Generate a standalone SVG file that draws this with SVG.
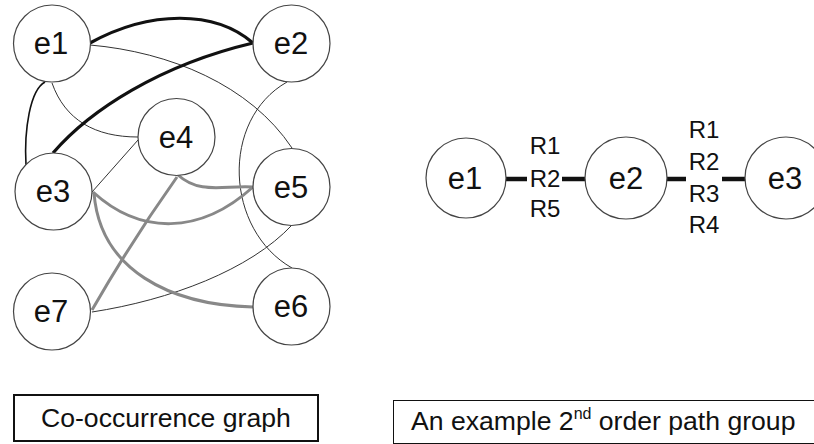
<svg xmlns="http://www.w3.org/2000/svg" width="814" height="444" viewBox="0 0 814 444">
<style>
.n{fill:#fff;stroke:#444;stroke-width:1.2}
.t{font-family:"Liberation Sans",Arial,sans-serif;font-size:31px;fill:#111;text-anchor:middle}
.r{font-family:"Liberation Sans",Arial,sans-serif;font-size:24px;fill:#111;text-anchor:middle}
.thin{fill:none;stroke:#333;stroke-width:1}
.blk{fill:none;stroke:#111;stroke-width:3.2}
.gry{fill:none;stroke:#888;stroke-width:3}
.bar{stroke:#111;stroke-width:4.5}
.cap{font-family:"Liberation Sans",Arial,sans-serif;font-size:26.6px;fill:#111}
</style>
<rect width="814" height="444" fill="#fff"/>
<g id="connectors">
<path class="thin" d="M90,45 C170,52 250,85 292,148"/>
<path fill="none" stroke="#111" stroke-width="1.6" d="M45,82 C30,90 24,130 26,165"/>
<path class="thin" d="M52,83 C65,120 95,137 138,137"/>
<path class="thin" d="M287,82 C220,120 225,230 292,268"/>
<path class="thin" d="M92,192 L138,140"/>
<path class="thin" d="M92,312 C170,300 250,270 292,225"/>
<path class="blk" d="M90,43 C150,10 215,10 253,43"/>
<path class="blk" d="M253,43 C160,65 90,110 53,153"/>
<path class="gry" d="M93,192 C140,235 200,235 253,187"/>
<path class="gry" d="M178,175 C200,195 225,185 253,187"/>
<path class="gry" d="M177,177 C150,215 115,270 92,310"/>
<path class="gry" d="M94,193 C100,270 170,305 253,307"/>
<line class="bar" x1="506" y1="179" x2="527" y2="179"/>
<line class="bar" x1="562" y1="179" x2="586" y2="179"/>
<line class="bar" x1="666" y1="179" x2="686" y2="179"/>
<line class="bar" x1="722" y1="179" x2="746" y2="179"/>
</g>
<g id="e1"><circle class="n" cx="52" cy="43.5" r="38.5"/><text class="t" x="51" y="54">e1</text></g>
<g id="e2"><circle class="n" cx="291.5" cy="43.5" r="38.5"/><text class="t" x="291" y="54">e2</text></g>
<g id="e4"><circle class="n" cx="176.5" cy="137" r="38.5"/><text class="t" x="176" y="148">e4</text></g>
<g id="e3"><circle class="n" cx="53.5" cy="191.5" r="38.5"/><text class="t" x="53" y="202">e3</text></g>
<g id="e5"><circle class="n" cx="291.5" cy="187" r="38.5"/><text class="t" x="291" y="198">e5</text></g>
<g id="e7"><circle class="n" cx="52" cy="311.5" r="38.5"/><text class="t" x="51" y="322">e7</text></g>
<g id="e6"><circle class="n" cx="291.5" cy="306.5" r="38.5"/><text class="t" x="291" y="317">e6</text></g>
<g id="p_e1"><circle class="n" cx="466" cy="178" r="40"/><text class="t" x="465" y="189">e1</text></g>
<g id="p_e2"><circle class="n" cx="626" cy="178" r="41"/><text class="t" x="626" y="189">e2</text></g>
<g id="p_e3"><circle class="n" cx="786" cy="178" r="41"/><text class="t" x="785" y="189">e3</text></g>
<g id="labels1">
<text class="r" x="545" y="154">R1</text>
<text class="r" x="545" y="187">R2</text>
<text class="r" x="545" y="217">R5</text>
</g>
<g id="labels2">
<text class="r" x="704" y="138">R1</text>
<text class="r" x="704" y="170">R2</text>
<text class="r" x="704" y="202">R3</text>
<text class="r" x="704" y="233">R4</text>
</g>
<g id="cap1">
<rect x="14" y="395" width="304" height="46" fill="none" stroke="#111" stroke-width="2"/>
<text class="cap" x="41" y="427">Co-occurrence graph</text>
</g>
<g id="cap2">
<rect x="393.5" y="400.5" width="430" height="43" fill="none" stroke="#111" stroke-width="1"/>
<text class="cap" x="411" y="430">An example 2<tspan font-size="16" dy="-11">nd</tspan><tspan dy="11"> order path group</tspan></text>
</g>
</svg>
